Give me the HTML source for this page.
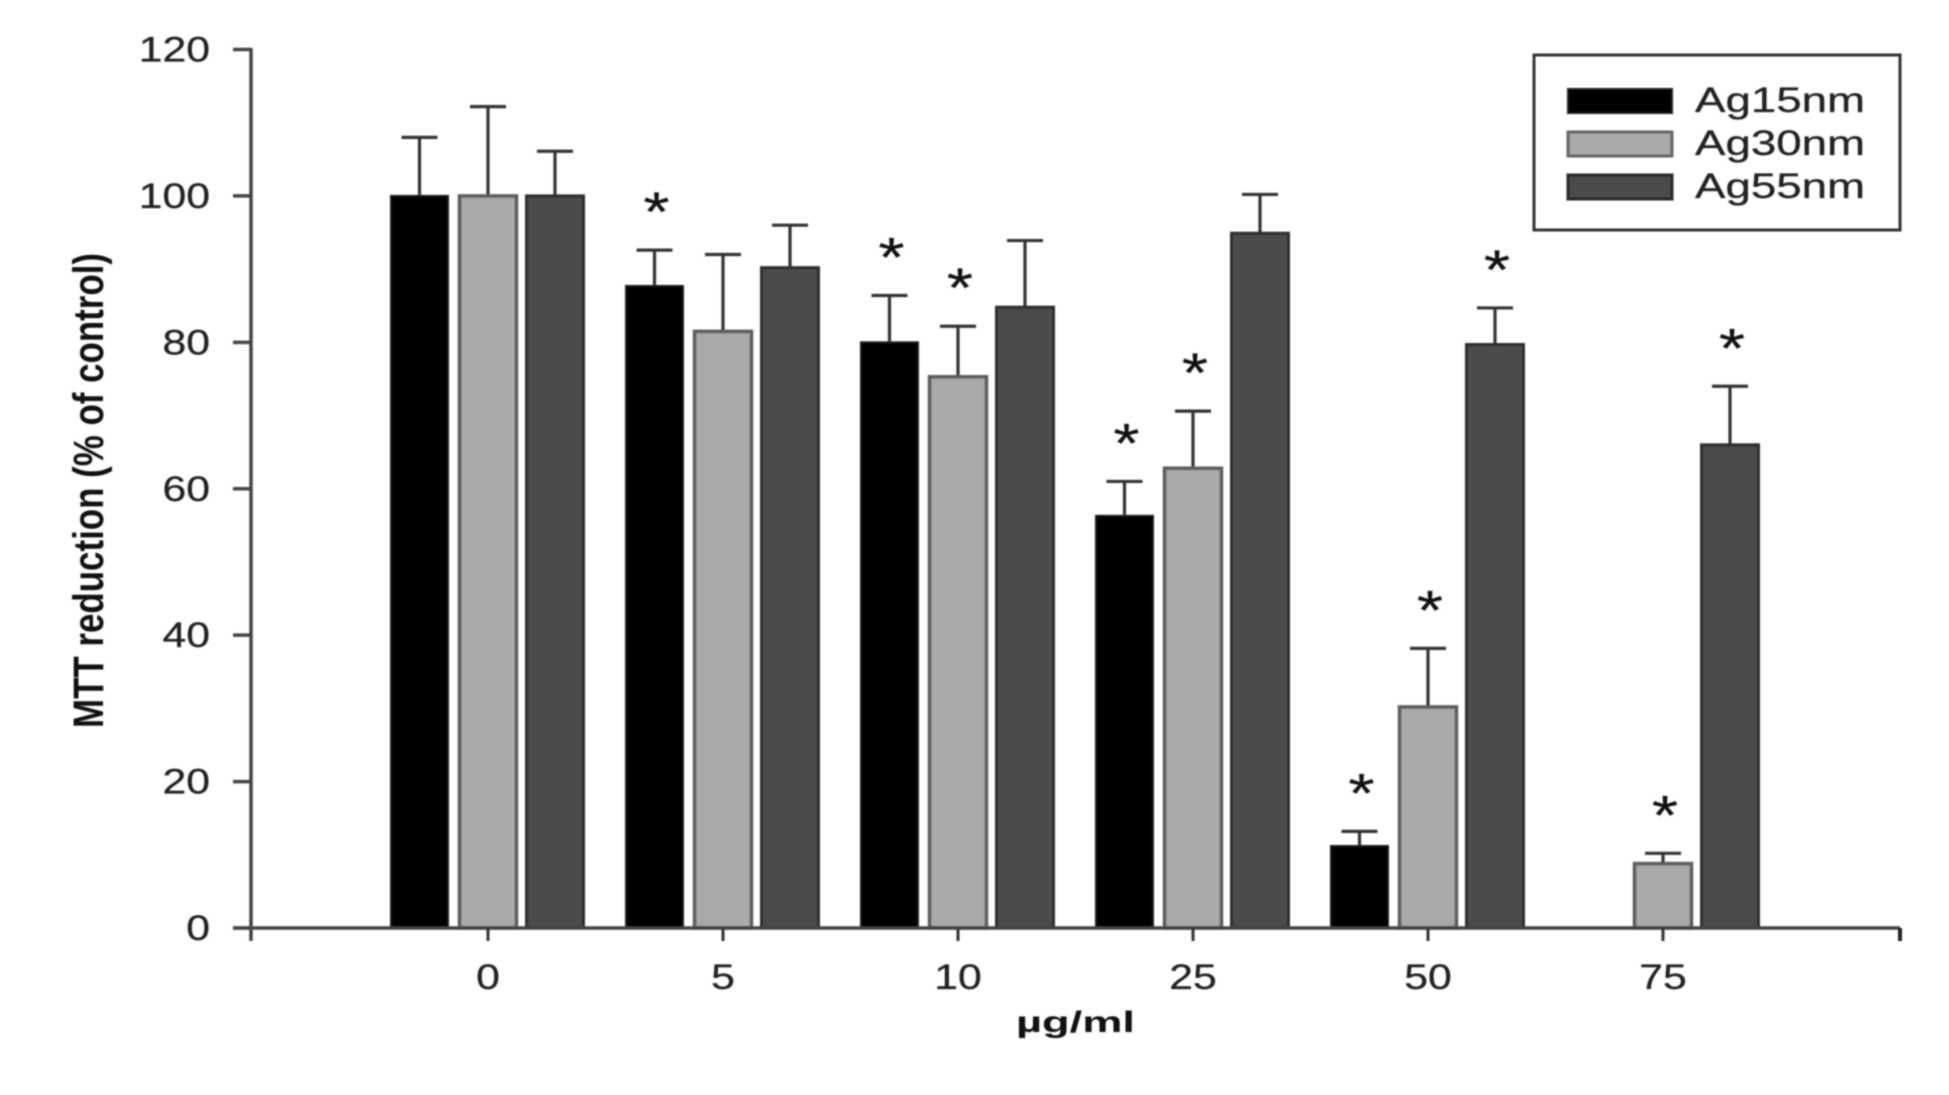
<!DOCTYPE html>
<html>
<head>
<meta charset="utf-8">
<title>MTT reduction chart</title>
<style>
html,body{margin:0;padding:0;background:#fff;width:1949px;height:1095px;overflow:hidden}
svg{display:block;filter:blur(0.8px)}
text{font-family:"Liberation Sans",Arial,sans-serif;fill:#222;stroke:#222;stroke-width:0.3px}
</style>
</head>
<body>
<svg id="chart" xmlns="http://www.w3.org/2000/svg" width="1949" height="1095" viewBox="0 0 1949 1095">
  <rect x="0" y="0" width="1949" height="1095" fill="#ffffff"/>
  <g id="bars"></g>
  <g id="axes"></g>
  <text transform="translate(103,728) rotate(-90) scale(1,1.25)" textLength="475" lengthAdjust="spacingAndGlyphs" font-size="34" font-weight="bold" style="fill:#111;stroke:none">MTT reduction (% of control)</text>
  <text x="1016" y="1032" textLength="119" lengthAdjust="spacingAndGlyphs" font-size="30" font-weight="bold" style="fill:#111;stroke:none">µg/ml</text>
  <g>
    <rect x="1534" y="55" width="366" height="175" fill="#fff" stroke="#333" stroke-width="3"/>
    <rect x="1568" y="89" width="104" height="24" fill="#000" stroke="#222" stroke-width="2"/>
    <text x="1695" y="112" textLength="170" lengthAdjust="spacingAndGlyphs" font-size="35">Ag15nm</text>
    <rect x="1568" y="132" width="104" height="24" fill="#a9a9a9" stroke="#666" stroke-width="3"/>
    <text x="1695" y="155" textLength="170" lengthAdjust="spacingAndGlyphs" font-size="35">Ag30nm</text>
    <rect x="1568" y="175" width="104" height="24" fill="#4b4b4b" stroke="#2a2a2a" stroke-width="3"/>
    <text x="1695" y="198" textLength="170" lengthAdjust="spacingAndGlyphs" font-size="35">Ag55nm</text>
  </g>
</svg>
<script>
const categories = ['0', '5', '10', '25', '50', '75'];
const yTickLabels = [0, 20, 40, 60, 80, 100, 120];
const ag15Values = [100, 87.7, 80, 56.3, 11.2, null];
const ag30Values = [100, 81.5, 75.3, 62.8, 30.2, 8.8];
const ag55Values = [100, 90.2, 84.8, 94.9, 79.7, 66];
const ag15Errors = [8, 4.9, 6.4, 4.7, 2, null];
const ag30Errors = [12.2, 10.5, 6.9, 7.8, 8, 1.4];
const ag55Errors = [6.1, 5.8, 9.1, 5.3, 5, 8];
const ag15Significant = [false, true, true, true, true, false];
const ag30Significant = [false, false, true, true, true, true];
const ag55Significant = [false, false, false, false, true, true];

const NS = 'http://www.w3.org/2000/svg';
const plot = { left: 251, right: 1900, top: 49.5, bottom: 928, max: 120, firstX: 488, step: 235, barWidth: 57, capHalf: 27 };
const seriesOffsets = [-68.5, 0, 67];
const seriesStyles = [
  { id: 'ag15nm', fill: '#000000', stroke: '#1c1c1c', sw: 2 },
  { id: 'ag30nm', fill: '#a9a9a9', stroke: '#5e5e5e', sw: 3.5 },
  { id: 'ag55nm', fill: '#4b4b4b', stroke: '#2e2e2e', sw: 3 }
];
function yScale(v) { return plot.bottom - v * (plot.bottom - plot.top) / plot.max; }
function xScale(i) { return plot.firstX + i * plot.step; }
function make(tag, parent) {
  const el = document.createElementNS(NS, tag);
  parent.appendChild(el);
  return el;
}
function setAll(el, attrs) {
  for (const k in attrs) el.setAttribute(k, attrs[k]);
}
const barsG = document.getElementById('bars');
const axesG = document.getElementById('axes');

function drawSeries(values, errors, significant, sIdx) {
  const st = seriesStyles[sIdx];
  values.forEach(function (v, i) {
    if (v === null) return;
    const cx = xScale(i) + seriesOffsets[sIdx];
    const top = yScale(v + errors[i]);
    const errLine = make('path', barsG);
    
    
    setAll(errLine, {
      d: 'M' + cx + ' ' + yScale(v) + 'V' + top + 'M' + (cx - plot.capHalf + 9) + ' ' + top + 'H' + (cx + plot.capHalf - 9),
      stroke: '#333', 'stroke-width': 3.2, fill: 'none'
    });
    const halo = make('rect', barsG);
    
    
    setAll(halo, { x: cx - plot.barWidth / 2 - 2, y: yScale(v) - 1, width: plot.barWidth + 4, height: plot.bottom - yScale(v) + 1, fill: '#fff' });
    const bar = make('rect', barsG);
    
    
    setAll(bar, {
      x: cx - plot.barWidth / 2, y: yScale(v), width: plot.barWidth, height: plot.bottom - yScale(v),
      fill: st.fill, stroke: st.stroke, 'stroke-width': st.sw
    });
    if (significant[i]) {
      const star = make('text', barsG);
      
      
      setAll(star, {
        transform: 'translate(' + (cx + 2) + ',' + (top - 19) + ') scale(1.2,1)',
        'text-anchor': 'middle', 'font-size': 56
      });
      star.style.fill = '#111';
      star.textContent = '*';
    }
  });
}
drawSeries(ag15Values, ag15Errors, ag15Significant, 0);
drawSeries(ag30Values, ag30Errors, ag30Significant, 1);
drawSeries(ag55Values, ag55Errors, ag55Significant, 2);

const yAxisLine = make('path', axesG);


setAll(yAxisLine, { d: 'M' + plot.left + ' ' + (plot.top - 1.5) + 'V' + (plot.bottom + 13), stroke: '#444', 'stroke-width': 3.5, fill: 'none' });

const xAxisLine = make('path', axesG);


setAll(xAxisLine, { d: 'M' + (plot.left - 18) + ' ' + plot.bottom + 'H' + plot.right, stroke: '#444', 'stroke-width': 3.5, fill: 'none' });

const xEndTick = make('path', axesG);


setAll(xEndTick, { d: 'M' + plot.right + ' ' + plot.bottom + 'v13', stroke: '#222', 'stroke-width': 4, fill: 'none' });

yTickLabels.forEach(function (t) {
  const y = yScale(t);
  const tick = make('path', axesG);
  
  
  setAll(tick, { d: 'M' + (plot.left - 18) + ' ' + y + 'H' + plot.left, stroke: '#444', 'stroke-width': 3.5, fill: 'none' });
  const label = make('text', axesG);
  
  
  setAll(label, { transform: 'translate(210,' + (y + 12) + ') scale(1.22,1)', 'text-anchor': 'end', 'font-size': 35 });
  label.textContent = t;
});

categories.forEach(function (c, i) {
  const x = xScale(i);
  const tick = make('path', axesG);
  
  
  setAll(tick, { d: 'M' + x + ' ' + plot.bottom + 'v13', stroke: '#333', 'stroke-width': 3, fill: 'none' });
  const label = make('text', axesG);
  
  
  setAll(label, { transform: 'translate(' + x + ',' + (plot.bottom + 61) + ') scale(1.22,1)', 'text-anchor': 'middle', 'font-size': 35 });
  label.textContent = c;
});
</script>
</body>
</html>
